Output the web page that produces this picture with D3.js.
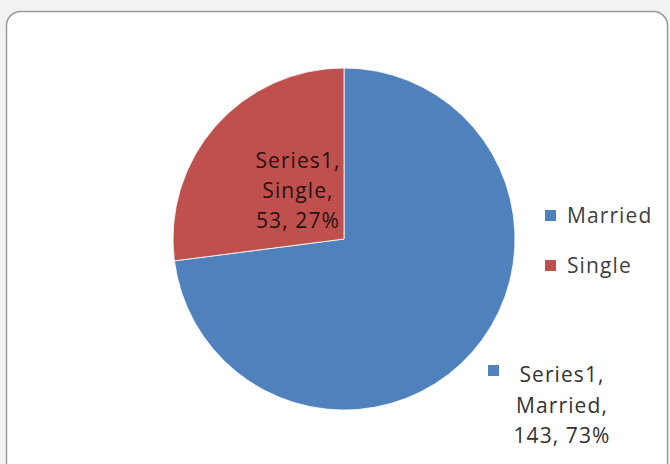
<!DOCTYPE html>
<html><head><meta charset="utf-8">
<script src="https://cdn.jsdelivr.net/npm/d3@7"></script>
<style>html,body{margin:0;padding:0;background:#f2f2f2;}svg{display:block;}</style>
</head><body>
<svg id="c" width="670" height="464"></svg>
<script>
const categories = ["Married", "Single"];
const values = [143, 53];
const percents = ["73%", "27%"];
const seriesName = "Series1";
const colors = ["#4F81BD", "#C0504D"];

const svg = d3.select("#c");
const font = "'Open Sans', sans-serif";

svg.append("rect").attr("x", 6.5).attr("y", 11.5).attr("width", 661).attr("height", 470)
  .attr("rx", 14).attr("fill", "#ffffff").attr("stroke", "#9a9a9a").attr("stroke-width", 1.5);

const cx = 344, cy = 239, r = 171;
const pie = d3.pie().sort(null).value(d => d.v);
const data = categories.map((c, i) => ({ c, v: values[i], p: percents[i], col: colors[i] }));
const arcs = pie(data);
const arc = d3.arc().innerRadius(0).outerRadius(r);

const g = svg.append("g").attr("transform", `translate(${cx},${cy})`);
g.selectAll("path").data(arcs).enter().append("path")
  .attr("d", arc).attr("fill", d => d.data.col)
  .attr("stroke", "#ffffff").attr("stroke-width", 0.8);

// data labels
const labelPos = [{ x: 562, y: 382, sq: true, lh: 30.5 }, { x: 298, y: 168, sq: false, lh: 30 }];
arcs.forEach((a, i) => {
  const lp = labelPos[i];
  const lines = [seriesName + ",", a.data.c + ",", a.data.v + ", " + a.data.p];
  const t = svg.append("text").attr("font-family", font).attr("font-size", 21)
    .attr("letter-spacing", 1.1)
    .attr("fill", i === 1 ? "#2a1010" : "#333333").attr("text-anchor", "middle");
  lines.forEach((l, k) => {
    t.append("tspan").attr("x", lp.x).attr("y", lp.y + k * lp.lh).text(l);
  });
  if (lp.sq) {
    svg.append("rect").attr("x", 488).attr("y", 365).attr("width", 11).attr("height", 11).attr("fill", a.data.col);
  }
});

// legend
const leg = svg.append("g");
categories.forEach((c, i) => {
  const y = 223 + i * 50;
  leg.append("rect").attr("x", 545).attr("y", y - 13).attr("width", 11).attr("height", 11).attr("fill", colors[i]);
  leg.append("text").attr("x", 567).attr("y", y).attr("font-family", font).attr("font-size", 21)
    .attr("letter-spacing", 1.1).attr("fill", "#404040").text(c);
});
</script>
</body></html>
